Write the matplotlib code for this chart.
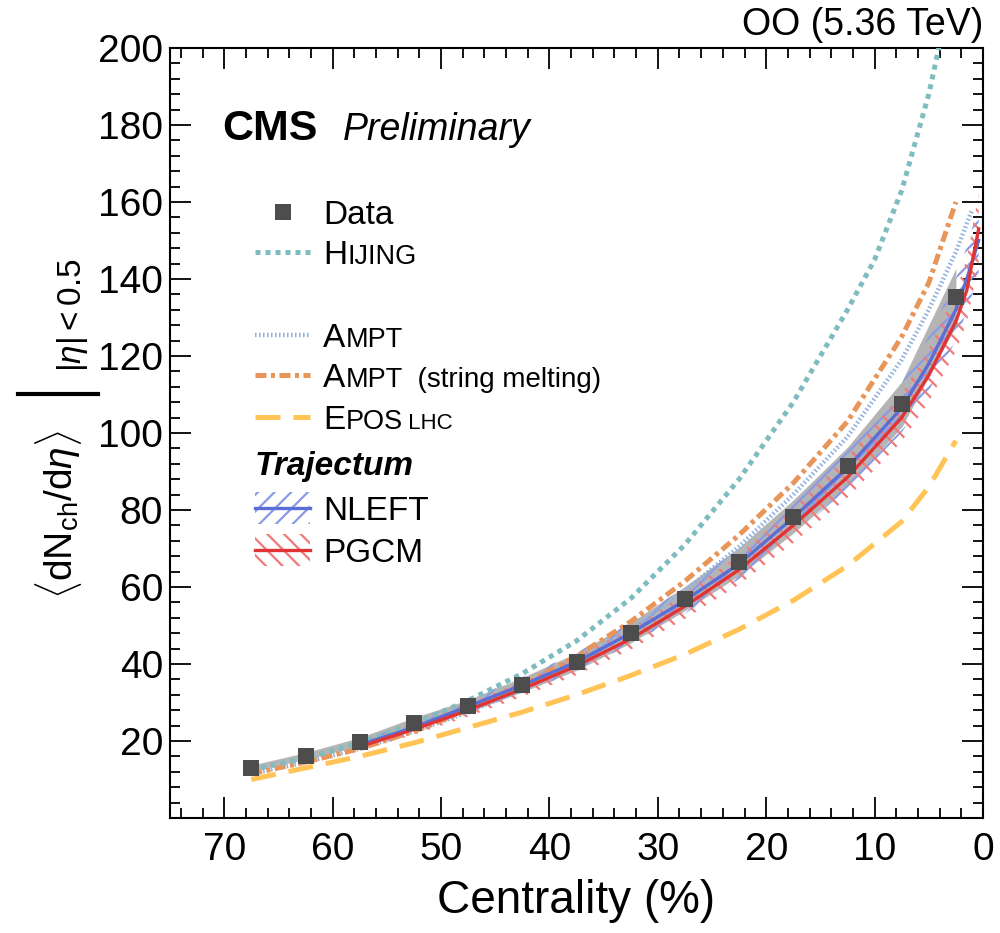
import matplotlib
matplotlib.use('Agg')
import matplotlib.pyplot as plt
import matplotlib.patches as mpatches
from matplotlib.lines import Line2D
from matplotlib.ticker import MultipleLocator
import numpy as np

plt.rcParams['font.family'] = ['Liberation Sans', 'DejaVu Sans']
plt.rcParams['mathtext.fontset'] = 'custom'
plt.rcParams['mathtext.rm'] = 'Liberation Sans'
plt.rcParams['mathtext.it'] = 'Liberation Sans:italic'
plt.rcParams['mathtext.bf'] = 'Liberation Sans:bold'
plt.rcParams['hatch.linewidth'] = 1.6

# ---- data ----
cent = [67.5, 62.5, 57.5, 52.5, 47.5, 42.5, 37.5, 32.5, 27.5, 22.5, 17.5, 12.5, 7.5, 2.5]
data_y = [13.0, 16.1, 19.8, 24.7, 29.1, 34.6, 40.6, 48.1, 57.0, 66.6, 78.3, 91.3, 107.4, 135.3]
data_sys = 0.055

hijing_x = [67.5, 62.5, 57.5, 52.5, 47.5, 42.5, 37.5, 32.5, 27.5, 22.5, 17.5, 12.5, 10, 7.5, 5, 4]
hijing_y = [12.5, 15.5, 19.5, 24.5, 30.5, 37.5, 46, 57, 71, 88, 108, 132, 145, 163, 188, 201]

ampt_x = [67.5, 62.5, 57.5, 52.5, 47.5, 42.5, 37.5, 32.5, 27.5, 22.5, 17.5, 12.5, 7.5, 5, 2.5, 1]
ampt_y = [11.5, 14.5, 18, 22.5, 27.5, 33.5, 40.5, 49, 59, 70.5, 84, 99, 119, 132, 147, 158]

amptsm_x = [67.5, 62.5, 57.5, 52.5, 47.5, 42.5, 37.5, 32.5, 27.5, 22.5, 17.5, 12.5, 7.5, 5, 2.5]
amptsm_y = [11.5, 14.5, 18, 22.5, 28, 34.5, 42, 51, 61.5, 73.5, 87, 103, 125, 139, 160]

epos_x = [67.5, 62.5, 57.5, 52.5, 47.5, 42.5, 37.5, 32.5, 27.5, 22.5, 17.5, 12.5, 7.5, 5, 2.5]
epos_y = [10, 13, 16, 19.5, 23.5, 27.5, 32, 37, 42.5, 49, 56.5, 65.5, 77, 86, 98]

traj_x = [57.5, 52.5, 47.5, 42.5, 37.5, 32.5, 27.5, 22.5, 17.5, 12.5, 7.5, 5, 2.5, 1.5, 0.4]
nleft_y = [19, 23.5, 29, 34.5, 40.5, 48, 56.5, 66, 78, 91, 106.5, 118, 132, 140, 150]
pgcm_y = [18.5, 23, 28, 33.5, 39.5, 46.5, 55, 64.5, 76, 88.5, 104, 115, 129, 137, 153]
traj_unc = 0.06

c_data = '#4d4d4d'
c_hijing = '#7fbcc0'
c_ampt = '#8fb0e0'
c_amptsm = '#e8955a'
c_epos = '#ffc455'
c_nleft = '#5a6ed6'
c_nleft_h = '#8a9ae6'
c_pgcm = '#e03434'
c_pgcm_h = '#f07a7a'

fig = plt.figure(figsize=(10, 9.33), dpi=100)
ax = fig.add_axes([0.17, 0.1233, 0.813, 0.8253])
W, H = fig.bbox.width, fig.bbox.height

cent_a = np.array(cent)
data_a = np.array(data_y)
ax.fill_between(cent_a, data_a * (1 - data_sys), data_a * (1 + data_sys),
                color='#b4b4b4', lw=0, zorder=1)

tx = np.array(traj_x)
for yv, ch in ((np.array(nleft_y), c_nleft_h), (np.array(pgcm_y), c_pgcm_h)):
    ax.fill_between(tx, yv * (1 - traj_unc), yv * (1 + traj_unc), facecolor='none',
                    edgecolor=ch, hatch='//' if ch == c_nleft_h else '\\\\', lw=0, zorder=2)

ax.plot(epos_x, epos_y, color=c_epos, lw=3.6, dashes=(5, 2.6), zorder=3)
ax.plot(ampt_x, ampt_y, color=c_ampt, lw=3.2, dashes=(0.35, 0.55), zorder=3)
ax.plot(amptsm_x, amptsm_y, color=c_amptsm, lw=3.6, dashes=(2.2, 0.9, 0.8, 0.9), zorder=3)
ax.plot(hijing_x, hijing_y, color=c_hijing, lw=3.6, dashes=(1, 1), zorder=3)
ax.plot(traj_x, nleft_y, color=c_nleft, lw=2.4, zorder=4)
ax.plot(traj_x, pgcm_y, color=c_pgcm, lw=2.4, zorder=4)
ax.plot(cent, data_y, 's', color=c_data, ms=12, mew=0, zorder=5)

ax.set_xlim(75, 0)
ax.set_ylim(0, 200)
ax.xaxis.set_major_locator(MultipleLocator(10))
ax.xaxis.set_minor_locator(MultipleLocator(2))
ax.yaxis.set_major_locator(MultipleLocator(20))
ax.yaxis.set_minor_locator(MultipleLocator(4))
ax.set_yticks(np.arange(20, 201, 20))
ax.tick_params(which='both', direction='in', top=True, right=True, width=1.3, labelsize=28)
ax.tick_params(which='major', length=15)
ax.tick_params(which='minor', length=7.5)
ax.tick_params(axis='x', pad=10)
ax.tick_params(axis='y', pad=5)
for s in ax.spines.values():
    s.set_linewidth(1.5)

ax.set_xlabel('Centrality (%)', fontsize=33, labelpad=8)

# y label built from pieces
fig.text(0.058, 1 - 515 / H, r'$\langle\mathrm{dN_{ch}/d}\eta\rangle$', rotation=90,
         fontsize=28, ha='center', va='center')
fig.add_artist(Line2D([0.018, 0.098], [1 - 394 / H, 1 - 394 / H], color='black', lw=3,
                      transform=fig.transFigure))
fig.text(0.072, 0.662, r'$|\eta| < 0.5$', rotation=90, fontsize=24, ha='center', va='center')

fig.text(0.983, 1 - 35 / H, 'OO (5.36 TeV)', fontsize=27, ha='right', va='baseline')
fig.text(0.222, 1 - 140 / H, 'CMS', fontsize=31, fontweight='bold', va='baseline')
fig.text(0.343, 1 - 140 / H, 'Preliminary', fontsize=27, style='italic', va='baseline')

# ---- legend drawn by hand ----
renderer = fig.canvas.get_renderer()


def put_parts(xpx, ypx, parts, **kw):
    for s, size in parts:
        t = fig.text(xpx / W, 1 - ypx / H, s, fontsize=size, va='baseline', **kw)
        xpx += t.get_window_extent(renderer).width


hx0, hx1 = 255 / W, 310 / W
tx0 = 323
rows = {'data': 212, 'hijing': 252, 'ampt': 335, 'amptsm': 375, 'epos': 417,
        'traj': 463, 'nleft': 508, 'pgcm': 550}


def fy(ypx):
    return 1 - ypx / H


fig.add_artist(Line2D([(hx0 + hx1) / 2], [fy(rows['data'])], marker='s', ms=12, mew=0,
                      color=c_data, transform=fig.transFigure))
fig.add_artist(Line2D([hx0, hx1], [fy(rows['hijing'])] * 2, color=c_hijing, lw=3.6,
                      dashes=(1, 1), transform=fig.transFigure))
fig.add_artist(Line2D([hx0, hx1], [fy(rows['ampt'])] * 2, color=c_ampt, lw=3.2,
                      dashes=(0.35, 0.55), transform=fig.transFigure))
fig.add_artist(Line2D([hx0, hx1], [fy(rows['amptsm'])] * 2, color=c_amptsm, lw=3.6,
                      dashes=(2.2, 0.9, 0.8, 0.9), transform=fig.transFigure))
fig.add_artist(Line2D([hx0, hx1], [fy(rows['epos'])] * 2, color=c_epos, lw=3.6,
                      dashes=(5, 2.6), transform=fig.transFigure))
for key, cl, ch, hatch in (('nleft', c_nleft, c_nleft_h, '//'), ('pgcm', c_pgcm, c_pgcm_h, '\\\\')):
    yc = fy(rows[key])
    fig.add_artist(mpatches.Rectangle((hx0, yc - 16 / H), hx1 - hx0, 32 / H, facecolor='none',
                                      edgecolor=ch, hatch=hatch, lw=0, transform=fig.transFigure))
    fig.add_artist(Line2D([hx0, hx1], [yc, yc], color=cl, lw=2.4, transform=fig.transFigure))

big, small, tiny = 24, 19.5, 16
put_parts(tx0, rows['data'] + 12, [('Data', big)])
put_parts(tx0, rows['hijing'] + 12, [('H', big), ('IJING', small)])
put_parts(tx0, rows['ampt'] + 12, [('A', big), ('MPT', small)])
put_parts(tx0, rows['amptsm'] + 12, [('A', big), ('MPT', small), ('  (string melting)', 20)])
put_parts(tx0, rows['epos'] + 12, [('E', big), ('POS', small), (' LHC', tiny)])
put_parts(255, rows['traj'] + 12, [('Trajectum', big)], fontweight='bold', style='italic')
put_parts(tx0, rows['nleft'] + 12, [('NLEFT', big)])
put_parts(tx0, rows['pgcm'] + 12, [('PGCM', big)])

fig.savefig('out.png', dpi=100)
